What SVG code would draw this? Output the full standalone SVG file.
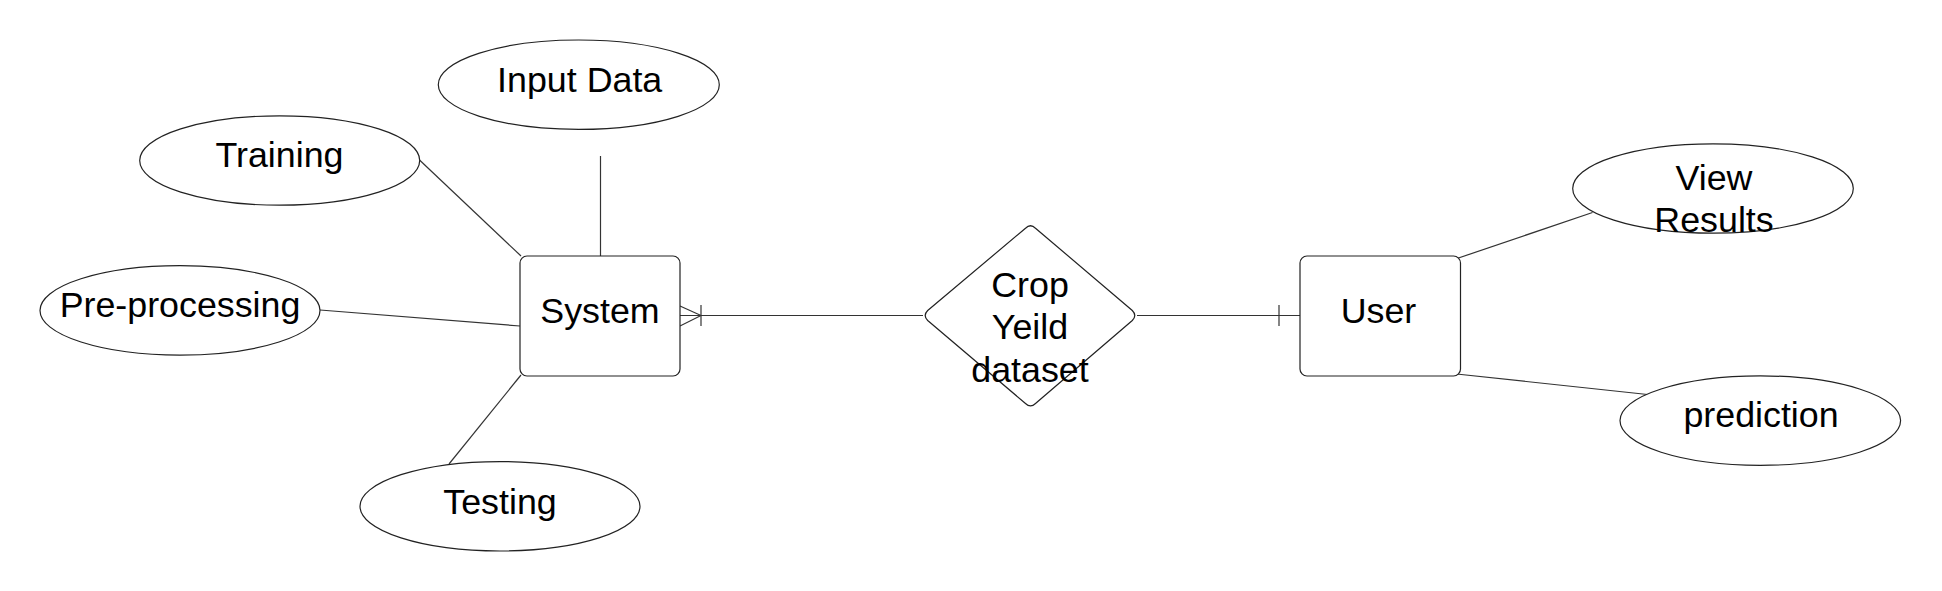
<svg xmlns="http://www.w3.org/2000/svg" width="1942" height="591" viewBox="0 0 1942 591">
<style>
.shape{fill:#ffffff;stroke:#222222;stroke-width:1.2}
.edge{fill:none;stroke:#333333;stroke-width:1.2}
.lbl{font-family:"Liberation Sans",Arial,sans-serif;font-size:35.8px;fill:#000000;text-anchor:middle}
</style>
<rect width="1942" height="591" fill="#ffffff"/>
<g id="connectors">
<line class="edge" x1="419.5" y1="160" x2="521" y2="256"/>
<line class="edge" x1="600.5" y1="156" x2="600.5" y2="256"/>
<line class="edge" x1="320" y1="310" x2="520" y2="326"/>
<line class="edge" x1="449" y1="464" x2="521" y2="375"/>
<line class="edge" x1="680" y1="315.5" x2="923" y2="315.5"/>
<line class="edge" x1="680" y1="306" x2="701" y2="315.5"/>
<line class="edge" x1="680" y1="326" x2="701" y2="315.5"/>
<line class="edge" x1="701" y1="305" x2="701" y2="326"/>
<line class="edge" x1="1137" y1="315.5" x2="1300" y2="315.5"/>
<line class="edge" x1="1279" y1="305" x2="1279" y2="326"/>
<line class="edge" x1="1457" y1="258.5" x2="1592.5" y2="212.5"/>
<line class="edge" x1="1456.5" y1="374" x2="1647.5" y2="394.5"/>
</g>
<g id="input-data">
<ellipse class="shape" cx="578.8" cy="84.7" rx="140.5" ry="44.7"/>
<text class="lbl" x="579.7" y="92">Input Data</text>
</g>
<g id="training">
<ellipse class="shape" cx="279.7" cy="160.5" rx="140" ry="44.7"/>
<text class="lbl" x="279.5" y="167.3">Training</text>
</g>
<g id="pre-processing">
<ellipse class="shape" cx="180" cy="310.4" rx="140" ry="44.7"/>
<text class="lbl" x="180" y="316.7">Pre-processing</text>
</g>
<g id="testing">
<ellipse class="shape" cx="500" cy="506.3" rx="140" ry="44.7"/>
<text class="lbl" x="500" y="514">Testing</text>
</g>
<g id="system">
<rect class="shape" x="520" y="256" width="160" height="120" rx="7" ry="7"/>
<text class="lbl" x="600" y="322.7">System</text>
</g>
<g id="crop-yeild-dataset">
<path class="shape" d="M1025.5 228.2 Q1030.5 223.3 1035.5 228.2 L1132.3 310.5 Q1137.3 315.5 1132.3 320.5 L1035.5 403.5 Q1030.5 408.3 1025.5 403.5 L927.7 320.5 Q922.7 315.5 927.7 310.5 Z"/>
<text class="lbl" x="1030" y="296.7">Crop</text>
<text class="lbl" x="1030" y="338.5">Yeild</text>
<text class="lbl" x="1030" y="381.7">dataset</text>
</g>
<g id="user">
<rect class="shape" x="1300" y="256" width="160.5" height="120" rx="7" ry="7"/>
<text class="lbl" x="1378.5" y="323.3">User</text>
</g>
<g id="view-results">
<ellipse class="shape" cx="1713" cy="188.5" rx="140.3" ry="44.7"/>
<text class="lbl" x="1714" y="190">View</text>
<text class="lbl" x="1714" y="231.7">Results</text>
</g>
<g id="prediction">
<ellipse class="shape" cx="1760.3" cy="420.6" rx="140.3" ry="44.7"/>
<text class="lbl" x="1761" y="426.7">prediction</text>
</g>
</svg>
